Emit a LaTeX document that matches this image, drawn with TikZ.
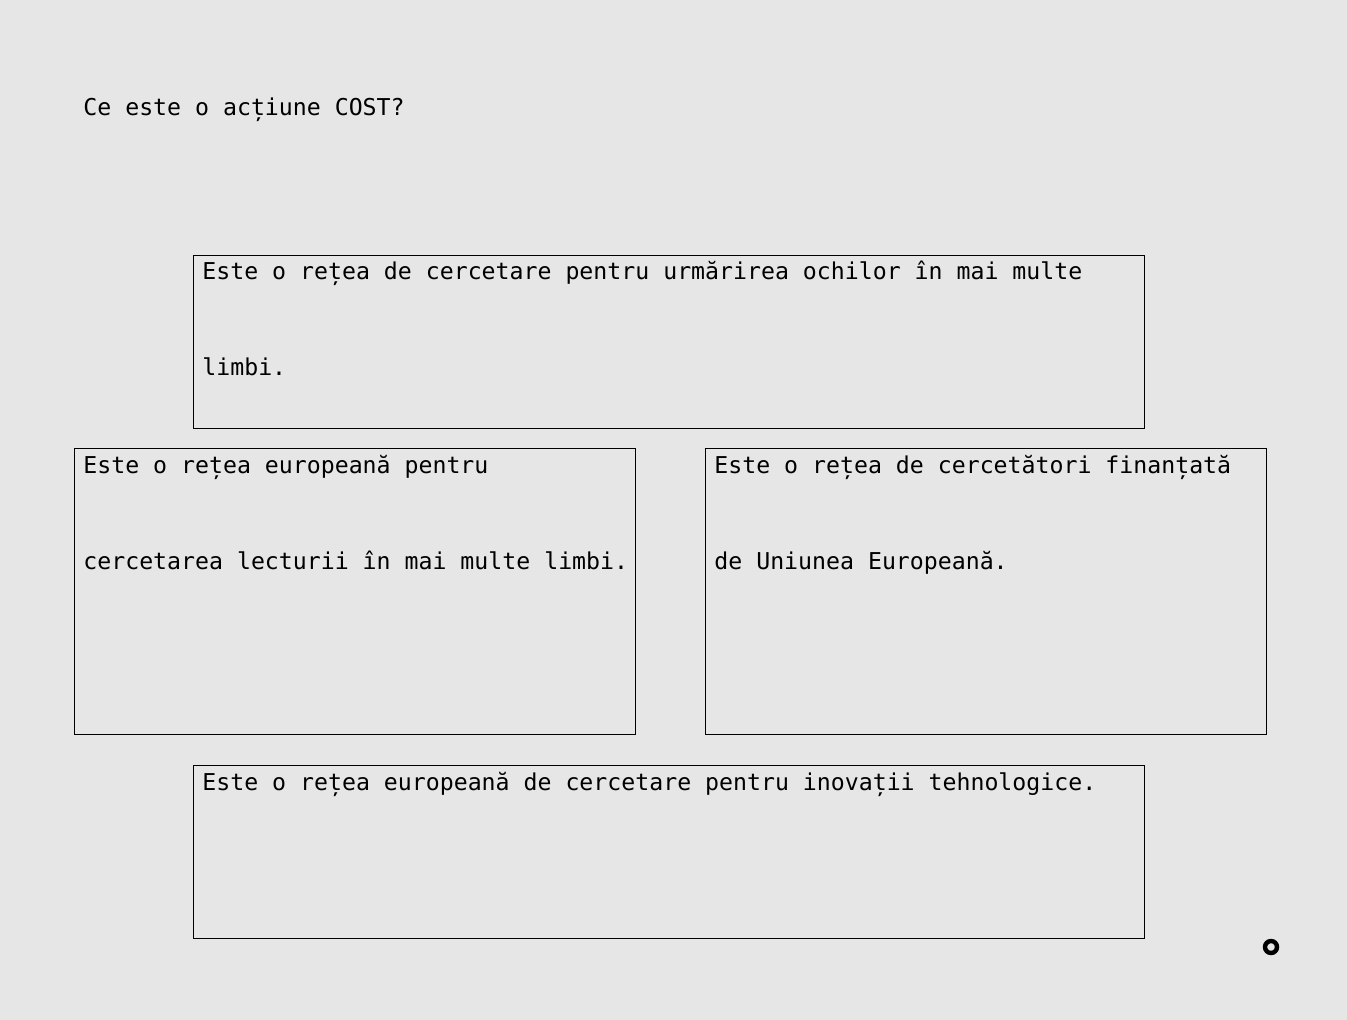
\documentclass[tikz,border=0pt]{standalone}
\usepackage{fontspec}
\setmonofont{DejaVu Sans Mono}
\definecolor{bg}{HTML}{E6E6E6}
\definecolor{ink}{HTML}{000000}
\begin{document}
\begin{tikzpicture}[x=0.5pt,y=-0.5pt,
  box/.style={draw=ink, line width=0.5pt, anchor=north west, inner sep=0pt, outer sep=0pt},
  txt/.style={anchor=base west, inner sep=0pt, font=\ttfamily\fontsize{11.6pt}{14pt}\selectfont, text=ink}]
\fill[bg] (0,0) rectangle (1347,1020);
\useasboundingbox (0,0) rectangle (1347,1020);
\node[txt] (title) at (83,116) {Ce este o acțiune COST?};
\node[box, minimum width=475.5pt, minimum height=86.5pt] (b1) at (193.5,255.5) {};
\node[txt] (t1a) at (202,280) {Este o rețea de cercetare pentru urmărirea ochilor în mai multe};
\node[txt] (t1b) at (202,376) {limbi.};
\node[box, minimum width=280.5pt, minimum height=143pt] (b2) at (74.5,448.5) {};
\node[txt] (t2a) at (83,474) {Este o rețea europeană pentru};
\node[txt] (t2b) at (83,569) {cercetarea lecturii în mai multe limbi.};
\node[box, minimum width=280.5pt, minimum height=143pt] (b3) at (705.5,448.5) {};
\node[txt] (t3a) at (714,474) {Este o rețea de cercetători finanțată};
\node[txt] (t3b) at (714,569) {de Uniunea Europeană.};
\node[box, minimum width=475.5pt, minimum height=86.5pt] (b4) at (193.5,765.5) {};
\node[txt] (t4a) at (202,790) {Este o rețea europeană de cercetare pentru inovații tehnologice.};
\node[circle, draw=black, line width=2.2pt, minimum size=6pt, inner sep=0pt] (dot) at (1271,947) {};
\end{tikzpicture}
\end{document}
